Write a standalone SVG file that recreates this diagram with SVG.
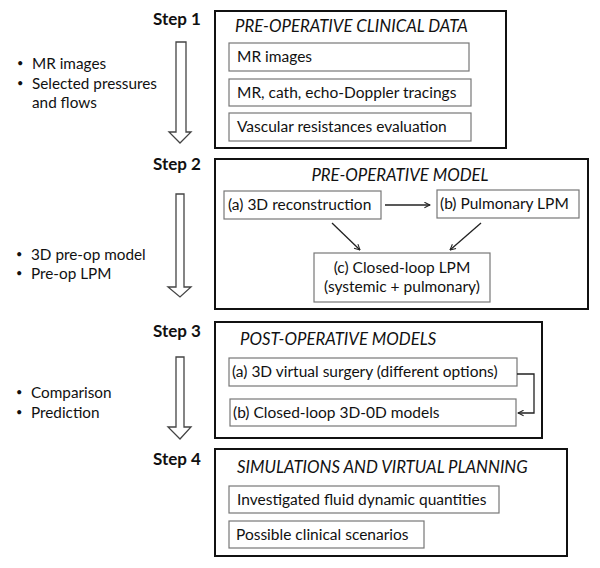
<svg xmlns="http://www.w3.org/2000/svg" width="600" height="568" viewBox="0 0 600 568">
<defs>
<marker id="ah" viewBox="0 0 10 10" refX="9" refY="5" markerWidth="7" markerHeight="7" orient="auto" markerUnits="userSpaceOnUse"><path d="M1,1 L9,5 L1,9" fill="none" stroke="#222" stroke-width="1.5"/></marker>
</defs>
<style>
text{font-family:Lato,"Liberation Sans",sans-serif;fill:#111}
.step{font-weight:bold;font-size:17px}
.title{font-style:italic;font-size:16.8px}
.t{font-size:15.5px}
.b{font-size:15.3px}
.d{font-size:11px}
.outer{fill:#fff;stroke:#111;stroke-width:2}
.inner{fill:#fff;stroke:#777;stroke-width:1.2}
.blk{fill:#fff;stroke:#444;stroke-width:1.3}
.con{fill:none;stroke:#222;stroke-width:1.3}
</style>
<rect width="600" height="568" fill="#fff"/>

<g id="step1">
<text class="step" x="153" y="25">Step 1</text>
<rect class="outer" x="215" y="11" width="291" height="137"/>
<text class="title" x="235" y="32">PRE-OPERATIVE CLINICAL DATA</text>
<rect class="inner" x="229" y="43" width="240" height="28"/>
<text class="t" x="237" y="62">MR images</text>
<rect class="inner" x="229" y="79" width="242" height="27"/>
<text class="t" x="237" y="98">MR, cath, echo-Doppler tracings</text>
<rect class="inner" x="229" y="113" width="242" height="28"/>
<text class="t" x="237" y="132">Vascular resistances evaluation</text>
</g>

<g id="notes1">
<text class="d" x="17" y="67">•</text><text class="b" x="32" y="69">MR images</text>
<text class="d" x="17" y="87">•</text><text class="b" x="32" y="89">Selected pressures</text>
<text class="b" x="32" y="108">and flows</text>
</g>

<g id="step2">
<text class="step" x="153" y="170">Step 2</text>
<rect class="outer" x="215" y="159" width="373" height="150"/>
<text class="title" x="400" y="181" text-anchor="middle">PRE-OPERATIVE MODEL</text>
<g id="s2a"><rect class="inner" x="224" y="191" width="157" height="28"/>
<text class="t" x="228" y="210">(a) 3D reconstruction</text></g>
<g id="s2b"><rect class="inner" x="437" y="190" width="142" height="28"/>
<text class="t" x="440" y="209">(b) Pulmonary LPM</text></g>
<g id="s2c"><rect class="inner" x="314" y="253" width="176" height="49"/>
<text class="t" x="402" y="273" text-anchor="middle">(c) Closed-loop LPM</text>
<text class="t" x="402" y="292" text-anchor="middle">(systemic + pulmonary)</text></g>
</g>

<g id="notes2">
<text class="d" x="16" y="258">•</text><text class="b" x="31" y="260">3D pre-op model</text>
<text class="d" x="16" y="277">•</text><text class="b" x="31" y="279">Pre-op LPM</text>
</g>

<g id="step3">
<text class="step" x="153" y="337">Step 3</text>
<rect class="outer" x="215" y="322" width="327" height="116"/>
<text class="title" x="240" y="345">POST-OPERATIVE MODELS</text>
<g id="s3a"><rect class="inner" x="229" y="358" width="288" height="28"/>
<text class="t" x="232" y="377">(a) 3D virtual surgery (different options)</text></g>
<g id="s3b"><rect class="inner" x="230" y="399" width="286" height="27"/>
<text class="t" x="233" y="418">(b) Closed-loop 3D-0D models</text></g>
</g>

<g id="notes3">
<text class="d" x="16" y="396">•</text><text class="b" x="31" y="398">Comparison</text>
<text class="d" x="16" y="416">•</text><text class="b" x="31" y="418">Prediction</text>
</g>

<g id="step4">
<text class="step" x="153" y="465">Step 4</text>
<rect class="outer" x="215" y="449" width="352" height="107"/>
<text class="title" x="237" y="473">SIMULATIONS AND VIRTUAL PLANNING</text>
<rect class="inner" x="229" y="486" width="270" height="27"/>
<text class="t" x="237" y="505">Investigated fluid dynamic quantities</text>
<rect class="inner" x="229" y="521" width="195" height="27"/>
<text class="t" x="236" y="540">Possible clinical scenarios</text>
</g>

<g id="connectors">
<path class="blk" d="M176,42 H186 V132 H191 L180,143 L169,132 H176 Z"/>
<path class="blk" d="M176,194 H184 V287 H191 L180,297 L168,287 H176 Z"/>
<path class="blk" d="M176,357 H184 V427 H191 L180,439 L168,427 H176 Z"/>
<line class="con" x1="385" y1="205" x2="430" y2="205" marker-end="url(#ah)"/>
<line class="con" x1="332" y1="223" x2="360" y2="250" marker-end="url(#ah)"/>
<line class="con" x1="481" y1="223" x2="450" y2="250" marker-end="url(#ah)"/>
<path class="con" d="M517,374 H534 V413 H518" marker-end="url(#ah)"/>
</g>
</svg>
